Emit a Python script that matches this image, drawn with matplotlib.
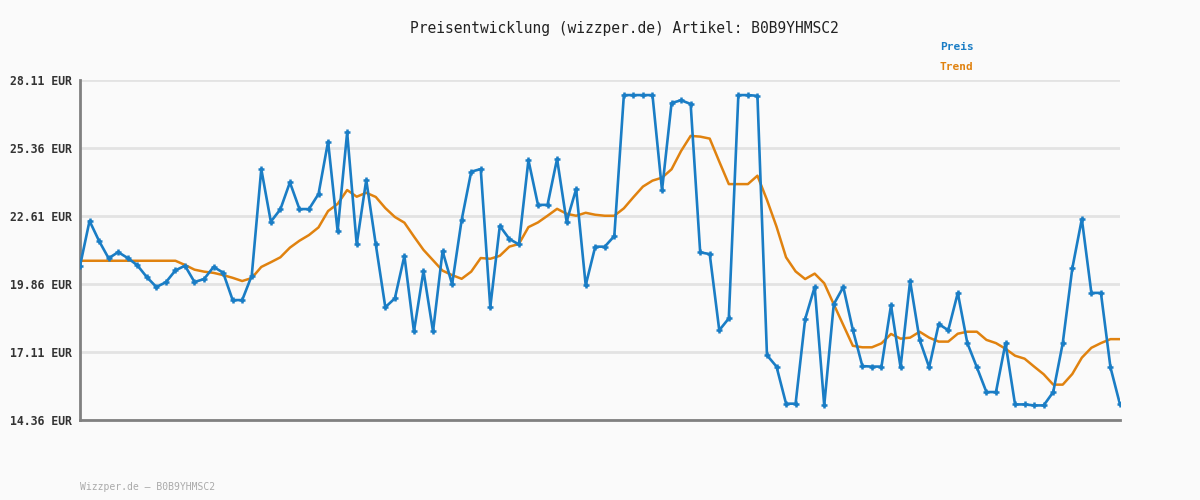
import matplotlib
matplotlib.use("Agg")
from matplotlib import pyplot as plt

preis = [20.59, 22.41, 21.60, 20.90, 21.15, 20.91, 20.62, 20.14, 19.74, 19.93,
         20.41, 20.60, 19.94, 20.06, 20.55, 20.32, 19.21, 19.21, 20.20, 24.51,
         22.38, 22.88, 23.97, 22.89, 22.89, 23.50, 25.62, 22.00, 25.99, 21.46,
         24.07, 21.46, 18.92, 19.28, 21.00, 17.94, 20.39, 17.94, 21.19, 19.85,
         22.45, 24.40, 24.51, 18.92, 22.21, 21.68, 21.46, 24.87, 23.06, 23.06,
         24.92, 22.38, 23.70, 19.81, 21.37, 21.37, 21.80, 27.50, 27.50, 27.50,
         27.50, 23.65, 27.18, 27.29, 27.14, 21.14, 21.07, 17.99, 18.47, 27.50,
         27.50, 27.47, 16.98, 16.52, 15.02, 15.02, 18.44, 19.74, 14.95, 19.04,
         19.74, 18.00, 16.54, 16.52, 16.52, 19.00, 16.49, 19.98, 17.60, 16.49,
         18.24, 17.99, 19.50, 17.47, 16.49, 15.49, 15.49, 17.47, 14.99, 14.99,
         14.95, 14.95, 15.49, 17.47, 20.49, 22.49, 19.50, 19.50, 16.49, 14.99]

trend = [20.80, 20.80, 20.80, 20.80, 20.80, 20.80, 20.80, 20.80, 20.80, 20.80,
         20.80, 20.63, 20.44, 20.36, 20.31, 20.22, 20.11, 19.98, 20.10, 20.55,
         20.74, 20.94, 21.33, 21.61, 21.84, 22.15, 22.81, 23.10, 23.66, 23.39,
         23.55, 23.38, 22.93, 22.57, 22.34, 21.78, 21.24, 20.82, 20.40, 20.22,
         20.07, 20.36, 20.91, 20.88, 21.00, 21.37, 21.48, 22.16, 22.35, 22.62,
         22.90, 22.70, 22.62, 22.74, 22.66, 22.62, 22.62, 22.92, 23.37, 23.80,
         24.04, 24.16, 24.50, 25.24, 25.85, 25.82, 25.74, 24.81, 23.90, 23.90,
         23.90, 24.24, 23.26, 22.18, 20.94, 20.37, 20.06, 20.28, 19.89, 19.04,
         18.20, 17.36, 17.30, 17.30, 17.46, 17.84, 17.65, 17.69, 17.93, 17.69,
         17.53, 17.53, 17.85, 17.93, 17.93, 17.60, 17.47, 17.24, 16.96, 16.84,
         16.52, 16.21, 15.79, 15.79, 16.22, 16.88, 17.28, 17.47, 17.63, 17.63]

y_ticks = [14.36, 17.11, 19.86, 22.61, 25.36, 28.11]
y_labels = ["%.2f EUR" % v for v in y_ticks]

blue = "#1a7dc5"
orange = "#e0820f"
bg = "#fafafa"

plt.rcParams["font.family"] = ["DejaVu Sans Mono", "DejaVu Sans"]

fig = plt.figure(figsize=(12, 5), dpi=100, facecolor=bg)
ax = fig.add_axes([80 / 1200, 80 / 500, 1040 / 1200, 340 / 500], facecolor=bg)

x = list(range(len(preis)))
ax.plot(x, preis, color=blue, lw=1.9, marker="+", ms=5, mew=1.8, zorder=3)
ax.plot(x, trend, color=orange, lw=1.8, zorder=2)

ax.set_xlim(0, len(preis) - 1)
ax.set_ylim(y_ticks[0], y_ticks[-1])
ax.set_yticks(y_ticks)
ax.set_yticklabels(y_labels, fontsize=8.3, fontweight="bold", color="#333333")
ax.set_xticks([])
ax.tick_params(axis="y", length=0, pad=5.5)
ax.grid(axis="y", color="#e3e3e3", lw=2)
ax.set_axisbelow(True)

for s in ["top", "right"]:
    ax.spines[s].set_visible(False)
for s in ["left", "bottom"]:
    ax.spines[s].set_color("#808080")
    ax.spines[s].set_linewidth(2)

fig.text(624 / 1200, 1 - 28 / 500, "Preisentwicklung (wizzper.de) Artikel: B0B9YHMSC2",
         ha="center", va="center", fontsize=10.5, color="#222222")
fig.text(940 / 1200, 1 - 47 / 500, "Preis", ha="left", va="center",
         fontsize=8, fontweight="bold", color=blue)
fig.text(940 / 1200, 1 - 67 / 500, "Trend", ha="left", va="center",
         fontsize=8, fontweight="bold", color=orange)
fig.text(80 / 1200, 1 - 487 / 500, "Wizzper.de – B0B9YHMSC2", ha="left", va="center",
         fontsize=7, color="#aaaaaa")

fig.savefig("out.png", dpi=100, facecolor=bg)
